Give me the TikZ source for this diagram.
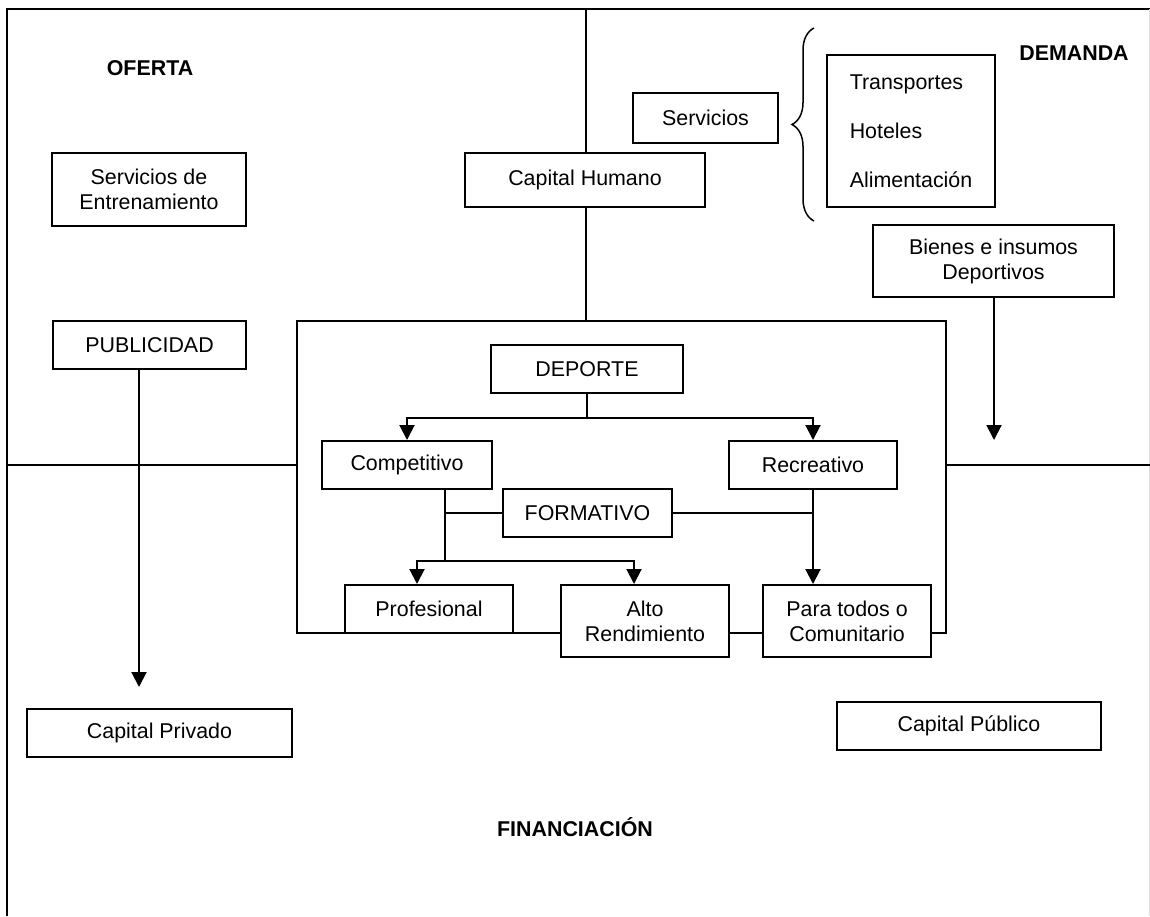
\documentclass[tikz,border=0pt]{standalone}
\usepackage{fontspec}
\setmainfont{Liberation Sans}
\usetikzlibrary{arrows.meta,decorations.pathreplacing}

\tikzset{
  caja/.style={draw, fill=white, inner sep=0pt, align=center},
  flecha/.style={-{Triangle[width=7.5pt,length=7.5pt]}},
  titulo/.style={font=\fontsize{10.7}{12.5}\selectfont\bfseries}
}

\begin{document}
\begin{tikzpicture}[x=0.5pt, y=-0.5pt, line width=1pt, font=\fontsize{10.7}{12.5}\selectfont]
        \useasboundingbox (0,0) rectangle (1150,916);
        \draw (7,916) -- (7,9) -- (1150,9);
        \draw[gray!25, line width=0.5pt] (1149,9) -- (1149,916);

        \node[caja, minimum width=324.5pt, minimum height=156pt] (marco) at (621.5,477) {};

        \node[titulo] (oferta) at (150,68) {OFERTA};
        \node[titulo] (demanda) at (1074,53) {DEMANDA};
        \node[titulo] (financiacion) at (575,827) {FINANCIACIÓN};

        \node[caja, minimum width=97pt, minimum height=36.5pt] (entrenamiento) at (149,189.5) {Servicios de\\Entrenamiento};
        \node[caja, minimum width=120pt, minimum height=27pt] (humano) at (585,180) {Capital Humano};
        \node[caja, minimum width=72.5pt, minimum height=25pt] (servicios) at (705.5,118) {Servicios};
        \node[caja, align=left, minimum width=84pt, minimum height=76pt] (lista) at (911,131) {Transportes\\[12pt]Hoteles\\[12pt]Alimentación};
        \node[caja, minimum width=120.5pt, minimum height=36pt] (bienes) at (993.5,261) {Bienes e insumos\\Deportivos};
        \node[caja, minimum width=96.5pt, minimum height=24pt] (publicidad) at (149.5,345) {PUBLICIDAD};

        \node[caja, minimum width=96pt, minimum height=24pt] (deporte) at (587,369) {DEPORTE};
        \node[caja, minimum width=85pt, minimum height=24pt] (competitivo) at (407,465) {Competitivo};
        \node[caja, minimum width=84pt, minimum height=24pt] (recreativo) at (813,465) {Recreativo};
        \node[caja, minimum width=84.5pt, minimum height=24pt] (formativo) at (587.5,513) {FORMATIVO};
        \node[caja, minimum width=84pt, minimum height=24pt] (profesional) at (429,609) {Profesional};
        \node[caja, minimum width=84pt, minimum height=36pt] (alto) at (645,621) {Alto\\Rendimiento};
        \node[caja, minimum width=84pt, minimum height=36pt] (para) at (847,621) {Para todos o\\Comunitario};

        \node[caja, minimum width=132.5pt, minimum height=24pt] (privado) at (159.5,733) {Capital Privado};
        \node[caja, minimum width=132pt, minimum height=24pt] (publico) at (969,726) {Capital Público};

        \draw[line width=0.75pt, decorate, decoration={brace, amplitude=11pt}] (814,221) -- (814,28);

        \coordinate (arriba) at (586,9);
        \draw (arriba) -- (arriba |- humano.north);
        \draw (arriba |- humano.south) -- (arriba |- marco.north);

        \coordinate (izq) at (7,465);
        \coordinate (der) at (1150,465);
        \draw (izq) -- (izq -| marco.west);
        \draw (der) -- (der -| marco.east);

        \coordinate (finpub) at (139,687);
        \draw[flecha] (finpub |- publicidad.south) -- (finpub);
        \coordinate (finbie) at (994,440);
        \draw[flecha] (finbie |- bienes.south) -- (finbie);

        \draw[flecha] (deporte.south) -- ++(0,24) -| (competitivo.north);
        \draw[flecha] (deporte.south) -- ++(0,24) -| (recreativo.north);

        \coordinate (rama) at (445,561);
        \draw (rama |- competitivo.south) -- (rama);
        \draw (rama |- formativo.west) -- (formativo.west);
        \draw[flecha] (rama) -| ([xshift=-6pt]profesional.north);
        \draw[flecha] (rama) -| ([xshift=-5.5pt]alto.north);
        \draw (formativo.east) -- (formativo.east -| recreativo.south);
        \draw[flecha] (recreativo.south) -- (recreativo.south |- para.north);
    \end{tikzpicture}
\end{document}
